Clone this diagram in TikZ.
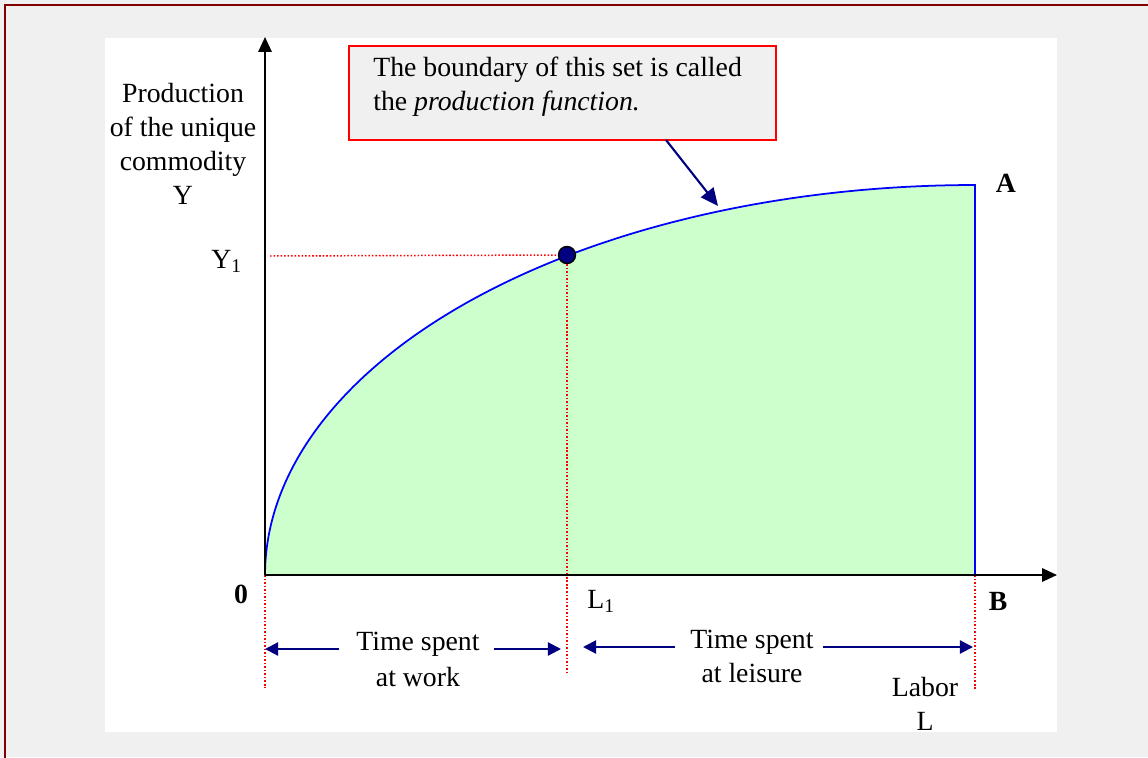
\documentclass[tikz,border=0pt]{standalone}
\usepackage{fontspec}
\setmainfont{Liberation Serif}
\usetikzlibrary{arrows.meta}
\definecolor{bgray}{HTML}{F0F0F0}
\definecolor{dred}{HTML}{800000}
\definecolor{navy}{HTML}{000080}
\definecolor{lgreen}{HTML}{CCFFCC}
\begin{document}
\begin{tikzpicture}[x=0.02cm,y=-0.02cm,
  font=\fontsize{15.8}{19.4}\selectfont,
  axis/.style={line width=1.1pt,-{Triangle[length=8.5pt,width=7.6pt]}},
  curve/.style={blue,line width=1pt},
  guide/.style={red,line width=0.85pt,dash pattern=on 0.9pt off 1.1pt},
  spanarrow/.style={navy,line width=1.2pt,-{Triangle[length=7.5pt,width=7.5pt]}},
  pointer/.style={navy,line width=1.2pt,-{Triangle[length=10pt,width=9pt]}},
  lbl/.style={inner sep=0pt},
  mlbl/.style={inner sep=0pt,align=center},
  callbox/.style={draw=red,line width=1.3pt,fill=bgray,minimum width=8.54cm,minimum height=1.88cm,inner sep=0pt},
  dot/.style={circle,fill=navy,draw=black,line width=0.8pt,minimum size=0.34cm,inner sep=0pt}]
% background and frame
\fill[bgray] (0,0) rectangle (1148,757);
\useasboundingbox (0,0) rectangle (1148,757);
\fill[white] (105,38) rectangle (1057,732);
\draw[dred,line width=1.2pt] (5,770) -- (5,5) -- (1170,5);
% production set
\fill[lgreen] plot[domain=180:270,samples=150] ({975+710*cos(\x)},{575+390*sin(\x)}) -- (975,575) -- cycle;
\draw[curve] plot[domain=180:270,samples=150] ({975+710*cos(\x)},{575+390*sin(\x)}) -- (975,575);
% coordinates
\coordinate (O) at (265,575);
\coordinate (ytip) at (265,37);
\coordinate (xtip) at (1057,575);
\coordinate (Bpt) at (975,575);
\coordinate (Obot) at (265,688);
\coordinate (Bbot) at (975,690);
\coordinate (L1bot) at (567,675);
\coordinate (Y1g) at (270,256);
% guides
\node[dot] (P) at (567,255) {};
\draw[guide] (O) -- (Obot);
\draw[guide] (Bpt) -- (Bbot);
\draw[guide] (Y1g) -- (P);
\draw[guide] (P) -- (L1bot);
% axes
\draw[axis] (O) -- (ytip);
\draw[axis] (O) -- (xtip);
% callout
\node[callbox] (box) at (562.5,93) {};
\node[lbl,anchor=north west,align=left] (boxtext) at (373,57) {The boundary of this set is called\\the \textit{production function.}};
\coordinate (ptrstart) at (666,140);
\coordinate (ptrend) at (718,206);
\draw[pointer] (ptrstart) -- (ptrend);
% labels
\node[mlbl,anchor=north,font=\fontsize{15.8}{19.3}\selectfont] (ylabel) at (183,83) {Production\\of the unique\\commodity\\Y};
\node[lbl,anchor=base west] (Y1) at (211,268) {Y\textsubscript{1}};
\node[lbl,anchor=base,font=\fontsize{15.8}{19.4}\selectfont\bfseries] (zero) at (241,603) {0};
\node[lbl,anchor=base west] (L1) at (587,608) {L\textsubscript{1}};
\node[lbl,anchor=base,font=\fontsize{15.8}{19.4}\selectfont\bfseries] (B) at (998,610) {B};
\node[lbl,anchor=base,font=\fontsize{15.8}{19.4}\selectfont\bfseries] (A) at (1006,192) {A};
\node[mlbl,anchor=north,font=\fontsize{15.8}{20.3}\selectfont] (work) at (418,632) {Time spent\\at work};
\node[mlbl,anchor=north,font=\fontsize{15.8}{19.4}\selectfont] (leisure) at (752,630) {Time spent\\at leisure};
\node[mlbl,anchor=north,font=\fontsize{15.8}{19}\selectfont] (labor) at (925,677) {Labor\\L};
% span arrows
\coordinate (wl) at (339,649); \coordinate (wlt) at (265,649);
\coordinate (wr) at (494,649); \coordinate (wrt) at (561,649);
\coordinate (ll) at (675,647); \coordinate (llt) at (583,647);
\coordinate (lr) at (823,647); \coordinate (lrt) at (973,647);
\draw[spanarrow] (wl) -- (wlt);
\draw[spanarrow] (wr) -- (wrt);
\draw[spanarrow] (ll) -- (llt);
\draw[spanarrow] (lr) -- (lrt);
\end{tikzpicture}
\end{document}
